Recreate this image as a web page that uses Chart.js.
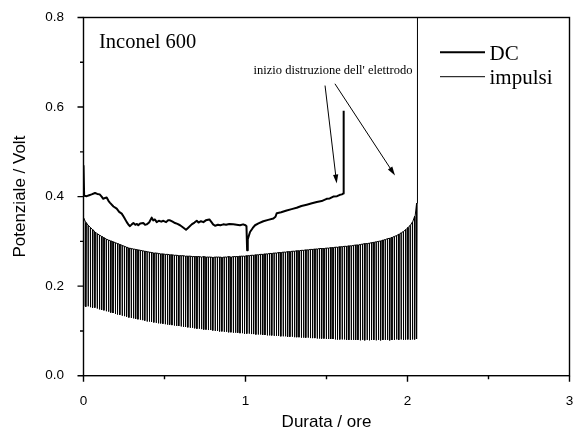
<!DOCTYPE html>
<html>
<head>
<meta charset="utf-8">
<script src="https://cdn.jsdelivr.net/npm/chart.js@4.4.1/dist/chart.umd.min.js"></script>
<style>
    html, body { margin: 0; padding: 0; background: #fff; }
</style>
</head>
<body>
<canvas id="chart" width="574" height="428"></canvas>
<script>
// DC curve (hours, volt)
const dcTime = [
    0.000, 0.004, 0.020, 0.035, 0.050, 0.071, 0.085, 0.100, 0.112, 0.122,
    0.133, 0.143, 0.155, 0.164, 0.185, 0.205, 0.220, 0.236, 0.250, 0.267,
    0.278, 0.287, 0.298, 0.308, 0.320, 0.330, 0.338, 0.350, 0.369, 0.380,
    0.390, 0.405, 0.421, 0.430, 0.440, 0.452, 0.465, 0.480, 0.493, 0.510,
    0.522, 0.534, 0.550, 0.565, 0.580, 0.596, 0.615, 0.633, 0.645, 0.668,
    0.685, 0.699, 0.710, 0.725, 0.740, 0.755, 0.777, 0.790, 0.800, 0.812,
    0.830, 0.845, 0.863, 0.880, 0.900, 0.925, 0.945, 0.966, 0.985, 1.000,
    1.006, 1.010, 1.014, 1.028, 1.045, 1.059, 1.080, 1.110, 1.140, 1.172,
    1.185, 1.193, 1.220, 1.254, 1.285, 1.316, 1.345, 1.378, 1.410, 1.440,
    1.470, 1.501, 1.520, 1.542, 1.565, 1.583, 1.595, 1.605, 1.606
];
const dcVolt = [
    0.470, 0.402, 0.401, 0.403, 0.405, 0.408, 0.406, 0.405, 0.400, 0.395,
    0.397, 0.398, 0.390, 0.386, 0.378, 0.373, 0.366, 0.362, 0.354, 0.343,
    0.337, 0.334, 0.338, 0.341, 0.337, 0.339, 0.336, 0.340, 0.341, 0.337,
    0.338, 0.342, 0.353, 0.347, 0.349, 0.343, 0.346, 0.344, 0.346, 0.343,
    0.347, 0.347, 0.344, 0.341, 0.339, 0.336, 0.331, 0.326, 0.330, 0.338,
    0.342, 0.346, 0.342, 0.345, 0.343, 0.347, 0.349, 0.343, 0.338, 0.335,
    0.337, 0.336, 0.338, 0.337, 0.339, 0.338, 0.337, 0.336, 0.338, 0.336,
    0.334, 0.280, 0.305, 0.321, 0.330, 0.336, 0.340, 0.345, 0.348, 0.351,
    0.355, 0.363, 0.365, 0.369, 0.372, 0.375, 0.379, 0.382, 0.385, 0.388,
    0.390, 0.395, 0.396, 0.400, 0.401, 0.404, 0.405, 0.407, 0.592
];

// pulsed run: time of each pulse, potential before the pulse and at its bottom
const pulseTime = [
    0.000, 0.014, 0.028, 0.042, 0.056, 0.070, 0.084, 0.098, 0.112, 0.126,
    0.140, 0.154, 0.168, 0.182, 0.196, 0.210, 0.224, 0.238, 0.252, 0.266,
    0.280, 0.294, 0.308, 0.322, 0.336, 0.350, 0.364, 0.378, 0.392, 0.406,
    0.420, 0.434, 0.448, 0.462, 0.476, 0.490, 0.504, 0.518, 0.532, 0.546,
    0.560, 0.574, 0.588, 0.602, 0.616, 0.630, 0.644, 0.658, 0.672, 0.686,
    0.700, 0.714, 0.728, 0.742, 0.756, 0.770, 0.784, 0.798, 0.812, 0.826,
    0.840, 0.854, 0.868, 0.882, 0.896, 0.910, 0.924, 0.938, 0.952, 0.966,
    0.980, 0.994, 1.008, 1.022, 1.036, 1.050, 1.064, 1.078, 1.092, 1.106,
    1.120, 1.134, 1.148, 1.162, 1.176, 1.190, 1.204, 1.218, 1.232, 1.246,
    1.260, 1.274, 1.288, 1.302, 1.316, 1.330, 1.344, 1.358, 1.372, 1.386,
    1.400, 1.414, 1.428, 1.442, 1.456, 1.470, 1.484, 1.498, 1.512, 1.526,
    1.540, 1.554, 1.568, 1.582, 1.596, 1.610, 1.624, 1.638, 1.652, 1.666,
    1.680, 1.694, 1.708, 1.722, 1.736, 1.750, 1.764, 1.778, 1.792, 1.806,
    1.820, 1.834, 1.848, 1.862, 1.876, 1.890, 1.904, 1.918, 1.932, 1.946,
    1.960, 1.974, 1.988, 2.002, 2.016, 2.030, 2.044, 2.056
];
const pulseHigh = [
    0.352, 0.342, 0.336, 0.331, 0.326, 0.321, 0.317, 0.314, 0.311, 0.308,
    0.305, 0.303, 0.301, 0.299, 0.297, 0.295, 0.293, 0.291, 0.289, 0.287,
    0.285, 0.284, 0.283, 0.282, 0.281, 0.280, 0.279, 0.278, 0.277, 0.276,
    0.275, 0.274, 0.274, 0.273, 0.272, 0.272, 0.271, 0.271, 0.270, 0.270,
    0.269, 0.269, 0.268, 0.268, 0.268, 0.267, 0.267, 0.267, 0.266, 0.266,
    0.266, 0.266, 0.265, 0.266, 0.265, 0.265, 0.265, 0.264, 0.265, 0.265,
    0.265, 0.264, 0.265, 0.265, 0.266, 0.265, 0.266, 0.266, 0.266, 0.267,
    0.267, 0.267, 0.268, 0.268, 0.269, 0.269, 0.270, 0.270, 0.271, 0.271,
    0.272, 0.272, 0.273, 0.273, 0.274, 0.274, 0.275, 0.275, 0.276, 0.276,
    0.277, 0.277, 0.278, 0.278, 0.279, 0.279, 0.280, 0.280, 0.281, 0.281,
    0.282, 0.282, 0.283, 0.283, 0.284, 0.284, 0.284, 0.285, 0.285, 0.286,
    0.286, 0.287, 0.287, 0.288, 0.288, 0.289, 0.289, 0.290, 0.290, 0.291,
    0.292, 0.292, 0.293, 0.294, 0.295, 0.295, 0.296, 0.297, 0.298, 0.299,
    0.300, 0.301, 0.303, 0.304, 0.306, 0.307, 0.309, 0.311, 0.313, 0.316,
    0.319, 0.322, 0.326, 0.331, 0.336, 0.343, 0.356, 0.385
];
const pulseLow = [
    0.155, 0.154, 0.155, 0.153, 0.152, 0.152, 0.150, 0.148, 0.147, 0.146,
    0.144, 0.143, 0.141, 0.140, 0.138, 0.137, 0.136, 0.134, 0.133, 0.132,
    0.130, 0.129, 0.128, 0.127, 0.126, 0.125, 0.124, 0.123, 0.121, 0.121,
    0.120, 0.119, 0.118, 0.117, 0.117, 0.116, 0.115, 0.114, 0.114, 0.113,
    0.112, 0.111, 0.111, 0.110, 0.109, 0.109, 0.108, 0.107, 0.107, 0.106,
    0.105, 0.105, 0.104, 0.103, 0.103, 0.102, 0.102, 0.101, 0.100, 0.100,
    0.099, 0.099, 0.098, 0.098, 0.097, 0.097, 0.096, 0.096, 0.096, 0.095,
    0.095, 0.094, 0.094, 0.094, 0.093, 0.093, 0.092, 0.092, 0.092, 0.091,
    0.091, 0.090, 0.090, 0.090, 0.089, 0.089, 0.089, 0.088, 0.088, 0.088,
    0.087, 0.087, 0.087, 0.086, 0.086, 0.086, 0.085, 0.085, 0.085, 0.085,
    0.084, 0.084, 0.084, 0.083, 0.083, 0.083, 0.083, 0.082, 0.082, 0.082,
    0.082, 0.081, 0.081, 0.081, 0.081, 0.081, 0.080, 0.080, 0.080, 0.080,
    0.080, 0.080, 0.079, 0.080, 0.079, 0.080, 0.079, 0.080, 0.080, 0.079,
    0.080, 0.079, 0.080, 0.080, 0.080, 0.079, 0.080, 0.080, 0.081, 0.080,
    0.081, 0.080, 0.081, 0.081, 0.080, 0.081, 0.081, 0.082
];
// time the potential needs to come back after each pulse (hours)
const recoveryTime = 0.003;
// final rise when the electrode breaks down
const pulseTailTime = [2.061, 2.062];
const pulseTailVolt = [0.392, 0.85];

// axes
const xMinorTicks = [0.5, 1.5, 2.5];
const yMinorTicks = [0.1, 0.3, 0.5, 0.7];

// annotation text + arrows (data coordinates)
const noteText = "inizio distruzione dell' elettrodo";
const notePos = [1.540, 0.673];
const arrowFrom = [[1.491, 0.648], [1.552, 0.652]];
const arrowTo = [[1.563, 0.429], [1.923, 0.447]];

const seriesNames = ['DC', 'impulsi'];

function buildDc() {
    return dcTime.map((t, i) => ({ x: t, y: dcVolt[i] }));
}

function buildPulses() {
    const pts = [];
    pulseTime.forEach((t, i) => {
        pts.push({ x: t, y: pulseHigh[i] });
        pts.push({ x: t, y: pulseLow[i] });
        pts.push({ x: t + recoveryTime, y: pulseHigh[i] });
    });
    pulseTailTime.forEach((t, i) => pts.push({ x: t, y: pulseTailVolt[i] }));
    return pts;
}

const SANS = '"Liberation Sans", Arial, sans-serif';
const SERIF = '"Liberation Serif", "Times New Roman", serif';

function drawArrow(ctx, x1, y1, x2, y2) {
    const ang = Math.atan2(y2 - y1, x2 - x1);
    const len = 9, half = 2.6;
    ctx.beginPath();
    ctx.moveTo(x1, y1);
    ctx.lineTo(x2 - Math.cos(ang) * len * 0.8, y2 - Math.sin(ang) * len * 0.8);
    ctx.stroke();
    ctx.beginPath();
    ctx.moveTo(x2, y2);
    ctx.lineTo(x2 - Math.cos(ang) * len - Math.sin(ang) * half, y2 - Math.sin(ang) * len + Math.cos(ang) * half);
    ctx.lineTo(x2 - Math.cos(ang) * len + Math.sin(ang) * half, y2 - Math.sin(ang) * len - Math.cos(ang) * half);
    ctx.closePath();
    ctx.fill();
}

// frame, tick marks, axis titles, legend and notes
const decorPlugin = {
    id: 'decor',
    afterDraw(chart) {
        const { ctx, chartArea: a, scales: { x, y } } = chart;
        ctx.save();
        ctx.fillStyle = '#000';
        ctx.strokeStyle = '#000';
        ctx.lineWidth = 1.4;
        ctx.strokeRect(a.left, a.top, a.width, a.height);

        ctx.beginPath();
        x.ticks.forEach(t => {
            const px = x.getPixelForValue(t.value);
            ctx.moveTo(px, a.bottom); ctx.lineTo(px, a.bottom + 6);
        });
        xMinorTicks.forEach(v => {
            const px = x.getPixelForValue(v);
            ctx.moveTo(px, a.bottom); ctx.lineTo(px, a.bottom + 3.5);
        });
        y.ticks.forEach(t => {
            const py = y.getPixelForValue(t.value);
            ctx.moveTo(a.left, py); ctx.lineTo(a.left - 6, py);
        });
        yMinorTicks.forEach(v => {
            const py = y.getPixelForValue(v);
            ctx.moveTo(a.left, py); ctx.lineTo(a.left - 3.5, py);
        });
        ctx.stroke();

        // axis titles
        ctx.font = '17px ' + SANS;
        ctx.textAlign = 'center';
        ctx.textBaseline = 'alphabetic';
        ctx.fillText('Durata / ore', (a.left + a.right) / 2, 426.5);
        ctx.save();
        ctx.translate(25, (a.top + a.bottom) / 2);
        ctx.rotate(-Math.PI / 2);
        ctx.fillText('Potenziale / Volt', 0, 0);
        ctx.restore();

        // sample name
        ctx.textAlign = 'left';
        ctx.font = '20.5px ' + SERIF;
        ctx.fillText('Inconel 600', a.left + 15.5, a.top + 30.5);

        // legend
        const lx = a.right - 129.5;
        ctx.lineWidth = 2;
        ctx.beginPath(); ctx.moveTo(lx, 52.3); ctx.lineTo(lx + 45, 52.3); ctx.stroke();
        ctx.lineWidth = 1;
        ctx.beginPath(); ctx.moveTo(lx, 76.7); ctx.lineTo(lx + 45, 76.7); ctx.stroke();
        ctx.font = '21px ' + SERIF;
        ctx.fillText(seriesNames[0], lx + 49.5, 60);
        ctx.fillText(seriesNames[1], lx + 49.5, 84.3);

        // note with arrows
        ctx.font = '12.5px ' + SERIF;
        ctx.textAlign = 'center';
        ctx.fillText(noteText, x.getPixelForValue(notePos[0]), y.getPixelForValue(notePos[1]));
        ctx.lineWidth = 1;
        arrowFrom.forEach((f, i) => {
            drawArrow(ctx,
                x.getPixelForValue(f[0]), y.getPixelForValue(f[1]),
                x.getPixelForValue(arrowTo[i][0]), y.getPixelForValue(arrowTo[i][1]));
        });
        ctx.restore();
    }
};

new Chart(document.getElementById('chart'), {
    type: 'line',
    data: {
        datasets: [
            {
                label: seriesNames[0],
                data: buildDc(),
                borderColor: '#000',
                borderWidth: 2,
                borderJoinStyle: 'round',
                pointRadius: 0,
                tension: 0
            },
            {
                label: seriesNames[1],
                data: buildPulses(),
                borderColor: '#000',
                borderWidth: 1,
                pointRadius: 0,
                tension: 0
            }
        ]
    },
    options: {
        responsive: false,
        animation: false,
        layout: { padding: 0 },
        plugins: {
            legend: { display: false },
            tooltip: { enabled: false }
        },
        scales: {
            x: {
                type: 'linear',
                min: 0,
                max: 3,
                afterFit: scale => {
                    scale.height = 52.3;
                    scale.paddingRight = 4.5;
                },
                grid: { display: false },
                border: { display: false },
                ticks: {
                    stepSize: 1,
                    padding: 9.5,
                    color: '#000',
                    font: { family: SANS, size: 13.5 },
                    callback: v => v.toFixed(0)
                }
            },
            y: {
                type: 'linear',
                min: 0,
                max: 0.8,
                afterFit: scale => {
                    scale.width = 83.5;
                    scale.paddingTop = 17.5;
                },
                grid: { display: false },
                border: { display: false },
                ticks: {
                    stepSize: 0.2,
                    padding: 11.5,
                    color: '#000',
                    font: { family: SANS, size: 13.5 },
                    callback: v => v.toFixed(1)
                }
            }
        }
    },
    plugins: [decorPlugin]
});
</script>
</body>
</html>
